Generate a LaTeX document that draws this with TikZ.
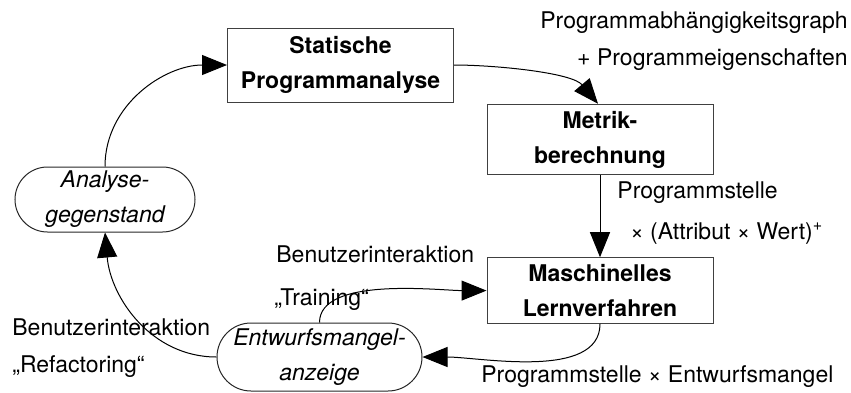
\documentclass[tikz,border=0pt]{standalone}
\usepackage{fontspec}
\setmainfont{TeX Gyre Heros}
\usepackage{tikz}
\usetikzlibrary{arrows.meta, positioning, shapes.misc}

\begin{document}
\begin{tikzpicture}[
    x=0.5pt, y=-0.5pt,
    box/.style={rectangle, draw=black!75, line width=0.5pt,
        minimum width=113pt, align=center,
        font=\fontsize{11.5}{17.5}\selectfont\bfseries},
    rbox/.style={rounded rectangle, draw=black!85, line width=0.5pt,
        align=center, inner sep=0pt,
        font=\fontsize{11.5}{17.5}\selectfont\itshape},
    lbl/.style={inner sep=0pt, font=\fontsize{11.5}{13}\selectfont},
    arr/.style={-{Triangle[length=12.5pt,width=10pt]}, line width=0.5pt},
    node distance=41pt
]
\useasboundingbox (0,0) rectangle (851,392);

\node[box, minimum height=37pt] (stat) at (340.5,65) {Statische\\Programmanalyse};
\node[box, minimum height=33.5pt] (metr) at (600,139.5) {Metrik-\\berechnung};
\node[box, minimum height=32pt, below=of metr] (masch) {Maschinelles\\Lernverfahren};
\node[rbox, minimum width=90pt, minimum height=32.5pt] (anal) at (105,199.5) {Analyse-\\gegenstand};
\node[rbox, minimum width=102.5pt, minimum height=34pt] (entw) at (319.5,357) {Entwurfsmangel-\\anzeige};

% Kantenbeschriftungen
\node[lbl, anchor=base east] (pdg) at (848,28.5) {Programmabhängigkeitsgraph};
\node[lbl, anchor=base east] (peig) at (848,65) {+ Programmeigenschaften};
\node[lbl, anchor=base west] (pst) at (617,198) {Programmstelle};
\node[lbl, anchor=base west] (attr) at (630,239) {× (Attribut × Wert)\textsuperscript{+}};
\node[lbl, anchor=base west] (bitr) at (276,262) {Benutzerinteraktion};
\node[lbl, anchor=base west] (trai) at (274,305) {„Training“};
\node[lbl, anchor=base west] (bire) at (12,335) {Benutzerinteraktion};
\node[lbl, anchor=base west] (refa) at (12,372) {„Refactoring“};
\node[lbl, anchor=base west] (pem) at (481,382) {Programmstelle × Entwurfsmangel};

\draw[arr] (anal.north) to[out=90, in=180] (stat.west);
\draw[arr] (stat.east) to[out=0, in=130, looseness=0.7] ([xshift=-1pt]metr.north);
\draw[arr] (metr) -- (masch);
\draw[arr] (masch.south) to[out=-90, in=0, looseness=0.8] (entw.east);
\draw[arr] (entw.north) to[out=90, in=180, looseness=0.7] (masch.west);
\draw[arr] (entw.west) to[out=180, in=-85] (anal.south);
\end{tikzpicture}
\end{document}
